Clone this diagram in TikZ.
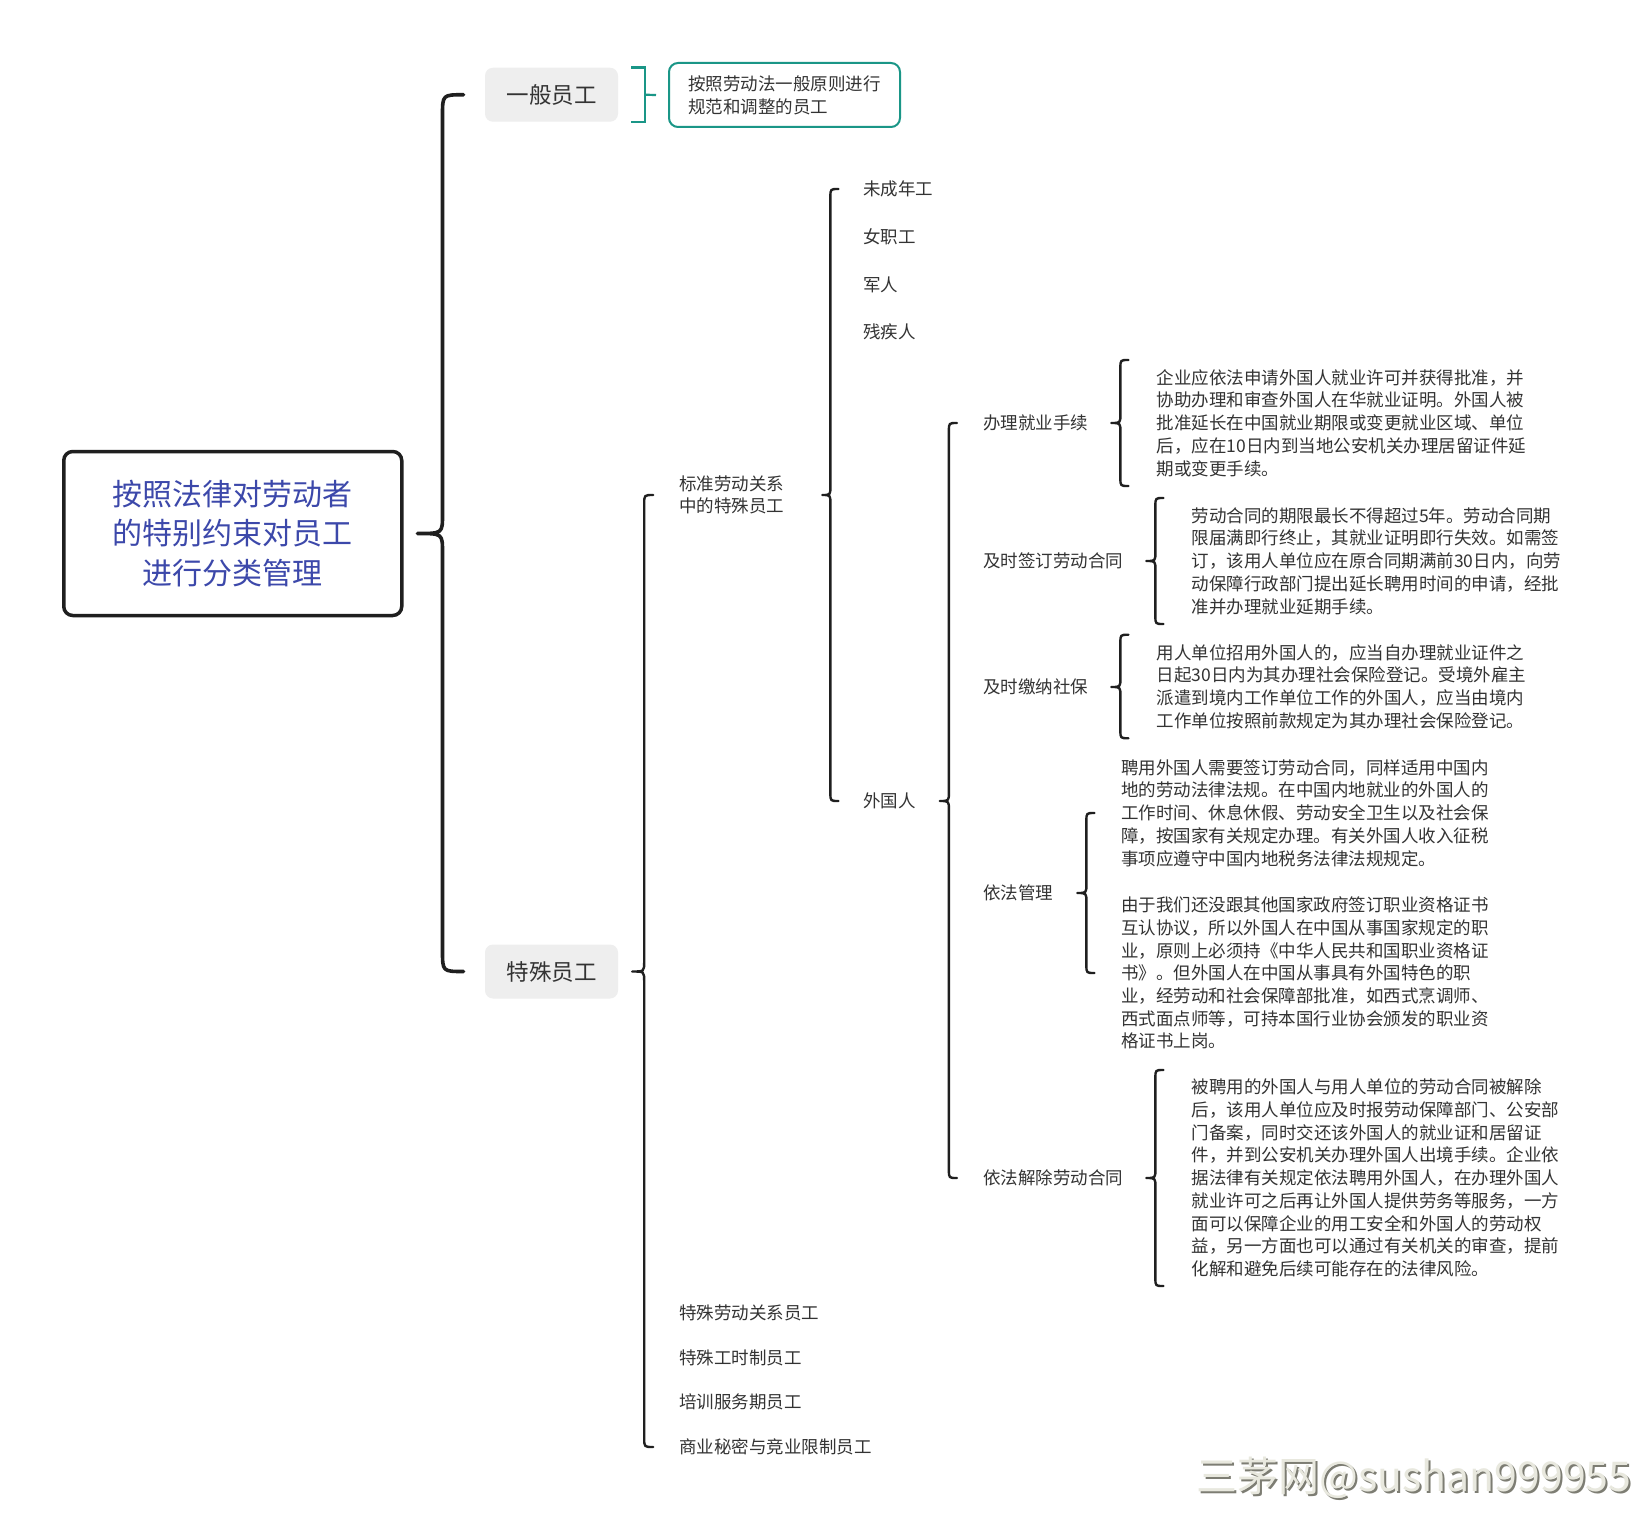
\documentclass[tikz,border=0pt]{standalone}
\usepackage{fontspec}
\setmainfont{Noto Sans CJK SC}
\usetikzlibrary{calc}
\definecolor{txt}{RGB}{51,51,51}
\definecolor{mainblue}{RGB}{60,72,170}
\definecolor{tealc}{RGB}{26,150,135}
\definecolor{boxgray}{RGB}{238,238,238}
\definecolor{wmfill}{RGB}{232,232,222}
\definecolor{wmshade}{RGB}{125,125,115}
% #1 style, #2 parent node, #3 gap from parent east to tip, #4 top coord, #5 bottom coord,
% #6 tip-to-line distance, #7 end radius, #8 tip half height
\newcommand\Brc[8]{%
 \draw[#1] let \p1=($(#2.east)+(#3,0)$), \p2=(#4), \p3=(#5) in
 ({\x1+#6pt+#7pt},\y2) .. controls ({\x1+#6pt},\y2) .. ({\x1+#6pt},{\y2-#7pt})
 -- ({\x1+#6pt},{\y1+#8pt}) .. controls ({\x1+#6pt},\y1) .. (\x1,\y1)
 .. controls ({\x1+#6pt},\y1) .. ({\x1+#6pt},{\y1-#8pt})
 -- ({\x1+#6pt},{\y3+#7pt}) .. controls ({\x1+#6pt},\y3) .. ({\x1+#6pt+#7pt},\y3);}
\begin{document}
\begin{tikzpicture}[x=1pt,y=-1pt,
 lbl/.style={anchor=west,inner sep=0pt,align=left,text=txt,font=\fontsize{17.5}{22.7}\selectfont},
 graybox/.style={fill=boxgray,rounded corners=8pt,minimum width=133pt,minimum height=54pt,
   font=\fontsize{22.5}{27}\selectfont,text=txt},
 brc/.style={draw=black!88,line width=2.4pt,line cap=round,line join=round},
 bigbrc/.style={brc,line width=3.6pt},
 tealline/.style={draw=tealc,line width=2.2pt},
 wmstyle/.style={anchor=west,inner sep=0pt,font=\fontsize{41}{41}\selectfont}]

\fill[white] (0,0) rectangle (1635,1530);
\useasboundingbox (0,0) rectangle (1635,1530);

% root
\node[draw=black!88,line width=3.5pt,rounded corners=9pt,minimum width=338pt,minimum height=164pt,
  align=center,text=mainblue,font=\fontsize{30}{39.5}\selectfont] (root) at (232.75,533.5)
  {按照法律对劳动者\\的特别约束对员工\\进行分类管理};

% level 1
\node[graybox] (gen) at (551.5,94.75) {一般员工};
\node[graybox] (spec) at (551.5,971.5) {特殊员工};

\node[draw=tealc,line width=2pt,rounded corners=9pt,minimum width=231pt,minimum height=64pt,
  align=left,inner xsep=17pt,text=txt,font=\fontsize{17.5}{23}\selectfont] (gdesc) at (784.5,95)
  {按照劳动法一般原则进行\\规范和调整的员工};

% level 2
\node[lbl] (std) at (679,495) {标准劳动关系\\中的特殊员工};
\node[lbl] (sp1) at (679,1313) {特殊劳动关系员工};
\node[lbl] (sp2) at (679,1358) {特殊工时制员工};
\node[lbl] (sp3) at (679,1402) {培训服务期员工};
\node[lbl] (sp4) at (679,1447) {商业秘密与竞业限制员工};

% level 3
\node[lbl] (c1) at (863,189) {未成年工};
\node[lbl] (c2) at (863,237) {女职工};
\node[lbl] (c3) at (863,284.5) {军人};
\node[lbl] (c4) at (863,332) {残疾人};
\node[lbl] (wgr) at (863,801) {外国人};

% level 4
\node[lbl] (d1) at (983,423) {办理就业手续};
\node[lbl] (d2) at (983,561) {及时签订劳动合同};
\node[lbl] (d3) at (983,687) {及时缴纳社保};
\node[lbl] (d4) at (983,893) {依法管理};
\node[lbl] (d5) at (983,1178) {依法解除劳动合同};

% leaves
\node[lbl] (t1) at (1156.5,423) {企业应依法申请外国人就业许可并获得批准，并\\协助办理和审查外国人在华就业证明。外国人被\\批准延长在中国就业期限或变更就业区域、单位\\后，应在10日内到当地公安机关办理居留证件延\\期或变更手续。};
\node[lbl] (t2) at (1191.5,561) {劳动合同的期限最长不得超过5年。劳动合同期\\限届满即行终止，其就业证明即行失效。如需签\\订，该用人单位应在原合同期满前30日内，向劳\\动保障行政部门提出延长聘用时间的申请，经批\\准并办理就业延期手续。};
\node[lbl] (t3) at (1156.5,686.5) {用人单位招用外国人的，应当自办理就业证件之\\日起30日内为其办理社会保险登记。受境外雇主\\派遣到境内工作单位工作的外国人，应当由境内\\工作单位按照前款规定为其办理社会保险登记。};
\node[lbl] (t4a) at (1121,813) {聘用外国人需要签订劳动合同，同样适用中国内\\地的劳动法律法规。在中国内地就业的外国人的\\工作时间、休息休假、劳动安全卫生以及社会保\\障，按国家有关规定办理。有关外国人收入征税\\事项应遵守中国内地税务法律法规规定。};
\node[lbl] (t4b) at (1121,973) {由于我们还没跟其他国家政府签订职业资格证书\\互认协议，所以外国人在中国从事国家规定的职\\业，原则上必须持《中华人民共和国职业资格证\\书》。但外国人在中国从事具有外国特色的职\\业，经劳动和社会保障部批准，如西式烹调师、\\西式面点师等，可持本国行业协会颁发的职业资\\格证书上岗。};
\node[lbl] (t5) at (1191.5,1178) {被聘用的外国人与用人单位的劳动合同被解除\\后，该用人单位应及时报劳动保障部门、公安部\\门备案，同时交还该外国人的就业证和居留证\\件，并到公安机关办理外国人出境手续。企业依\\据法律有关规定依法聘用外国人，在办理外国人\\就业许可之后再让外国人提供劳务等服务，一方\\面可以保障企业的用工安全和外国人的劳动权\\益，另一方面也可以通过有关机关的审查，提前\\化解和避免后续可能存在的法律风险。};

% teal bracket
\draw[tealline] ($(gen.north east)+(13,0)$) -| ($(gen.east)+(27,0)$) |- ($(gen.south east)+(13,0)$);
\draw[tealline] ($(gen.east)+(27,0)$) -- ($(gdesc.west)+(-12,0)$);

% braces
\Brc{bigbrc}{root}{14}{gen.west}{spec.west}{25}{21}{19}
\Brc{brc}{spec}{14}{std.west}{sp4.west}{12}{9}{10}
\Brc{brc}{std}{38}{c1.west}{wgr.west}{8}{8}{9}
\Brc{brc}{wgr}{24}{d1.west}{d5.west}{9}{8}{9}
\Brc{brc}{d1}{23}{$(t1.west)+(0,-63)$}{$(t1.west)+(0,63)$}{9}{8}{9}
\Brc{brc}{d2}{23}{$(t2.west)+(0,-63)$}{$(t2.west)+(0,63)$}{9}{8}{9}
\Brc{brc}{d3}{23}{$(t3.west)+(0,-51.75)$}{$(t3.west)+(0,51.75)$}{9}{8}{9}
\Brc{brc}{d4}{24}{t4a.west}{t4b.west}{9}{8}{9}
\Brc{brc}{d5}{23}{$(t5.west)+(0,-108)$}{$(t5.west)+(0,108)$}{9}{8}{9}

% watermark
\node[wmstyle,text=wmshade] (wmshadow) at (1198.5,1480) {三茅网@sushan999955};
\node[wmstyle,text=wmfill] (wm) at (1196.5,1478) {三茅网@sushan999955};
\end{tikzpicture}
\end{document}
